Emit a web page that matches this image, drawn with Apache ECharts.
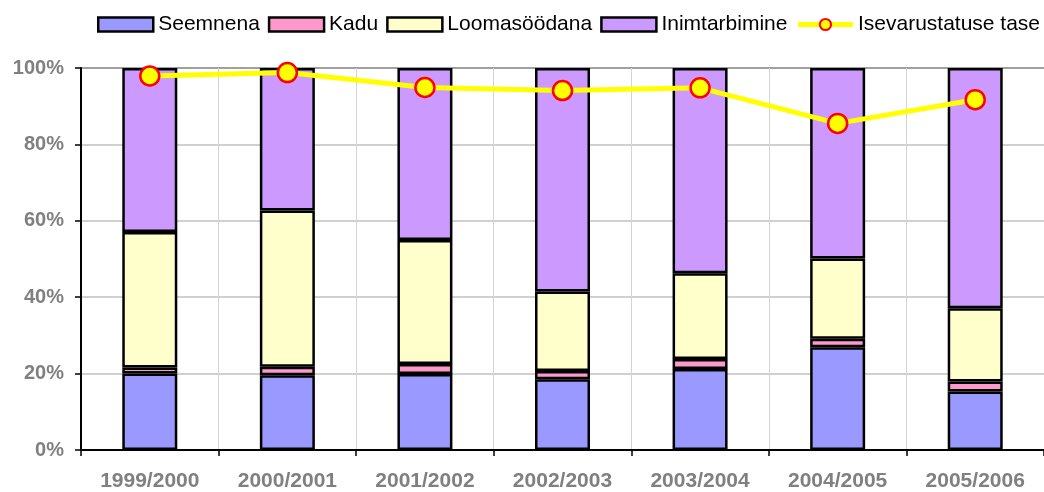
<!DOCTYPE html>
<html>
<head>
<meta charset="utf-8">
<script src="https://cdn.jsdelivr.net/npm/echarts@6/dist/echarts.min.js"></script>
<style>
html,body{margin:0;padding:0;background:#fff;}
#chart{width:1044px;height:492px;}
</style>
</head>
<body>
<div id="chart"></div>
<script>
var categories = ['1999/2000','2000/2001','2001/2002','2002/2003','2003/2004','2004/2005','2005/2006'];
var seemnena = [20.0, 19.6, 19.9, 18.5, 21.2, 26.9, 15.3];
var kadu = [1.6, 2.2, 2.6, 2.2, 2.6, 2.2, 2.6];
var loomasoodana = [35.5, 40.9, 32.5, 20.8, 22.5, 21.0, 19.2];
var inimtarbimine = [42.9, 37.3, 45.0, 58.5, 53.7, 49.9, 62.9];
var isevarustatus = [97.9, 98.8, 94.9, 94.1, 94.8, 85.5, 91.7];

var chartObj = echarts.init(document.getElementById('chart'));

function barSeries(name, data, color){
	return {
		name: name,
		type: 'bar',
		stack: 'total',
		barWidth: 55,
		data: data,
		itemStyle: {color: color, borderColor: '#000', borderWidth: 2.5},
		emphasis: {disabled: true}
	};
}

// bar legend items: box with thick black frame
var boxStyle = {borderColor: '#000', borderWidth: 2.5};

var option = {
	animation: false,
	textStyle: {fontFamily: 'Liberation Sans, Arial, sans-serif'},
	legend: {
		left: 92,
		top: 9,
		width: 1000,
		itemWidth: 55,
		itemHeight: 14,
		itemGap: 8,
		textStyle: {fontSize: 21, color: '#000'},
		data: [
			{name: 'Seemnena', icon: 'rect', itemStyle: boxStyle},
			{name: 'Kadu', icon: 'rect', itemStyle: boxStyle},
			{name: 'Loomasöödana', icon: 'rect', itemStyle: boxStyle},
			{name: 'Inimtarbimine', icon: 'rect', itemStyle: boxStyle},
			{name: 'Isevarustatuse tase', lineStyle: {width: 5}}
		]
	},
	grid: {left: 81, right: -4, top: 68, bottom: 40},
	xAxis: {
		type: 'category',
		data: categories,
		axisLine: {lineStyle: {color: '#000', width: 2}},
		axisTick: {show: true, length: 6, lineStyle: {color: '#000', width: 1.5}},
		axisLabel: {fontSize: 21, fontWeight: 'bold', color: '#808080', margin: 21},
		splitLine: {show: true, lineStyle: {color: '#d4d4d4', width: 1}}
	},
	yAxis: {
		type: 'value',
		min: 0,
		max: 100,
		interval: 20,
		axisLine: {show: true, lineStyle: {color: '#000', width: 2}},
		axisTick: {show: true, length: 6, lineStyle: {color: '#000', width: 1.5}},
		axisLabel: {fontSize: 20, fontWeight: 'bold', color: '#808080', margin: 17, formatter: '{value}%'},
		splitLine: {lineStyle: {color: ['#c0c0c0','#c0c0c0','#c0c0c0','#c0c0c0','#c0c0c0','#808080'], width: 1.5}}
	},
	series: [
		barSeries('Seemnena', seemnena, '#9999ff'),
		barSeries('Kadu', kadu, '#ff99cc'),
		barSeries('Loomasöödana', loomasoodana, '#ffffcc'),
		barSeries('Inimtarbimine', inimtarbimine, '#cc99ff'),
		{
			name: 'Isevarustatuse tase',
			type: 'line',
			data: isevarustatus,
			z: 10,
			symbol: 'circle',
			symbolSize: 19,
			lineStyle: {color: '#ffff00', width: 5},
			itemStyle: {color: '#ffff00', borderColor: '#ff0000', borderWidth: 2.5},
			emphasis: {disabled: true}
		}
	]
};
chartObj.setOption(option);
</script>
</body>
</html>
